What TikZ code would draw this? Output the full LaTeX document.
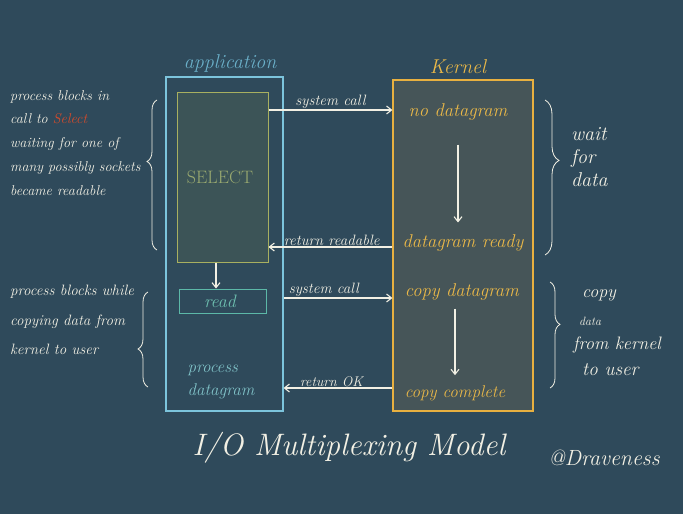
\documentclass[tikz,border=0pt]{standalone}
\usetikzlibrary{arrows.meta,decorations.pathreplacing,calc}
\definecolor{bg}{HTML}{2F4A5B}
\definecolor{appblue}{HTML}{7CC4DC}
\definecolor{applabel}{HTML}{6AAFC8}
\definecolor{selline}{HTML}{A8B060}
\definecolor{selfill}{HTML}{3C5457}
\definecolor{seltext}{HTML}{9AAA70}
\definecolor{readline}{HTML}{5CB8A8}
\definecolor{readtext}{HTML}{6EC0B0}
\definecolor{proctext}{HTML}{80C2C8}
\definecolor{kline}{HTML}{E8B040}
\definecolor{kfill}{HTML}{465558}
\definecolor{ktext}{HTML}{EAB848}
\definecolor{chalk}{HTML}{F2F0E4}
\definecolor{redsel}{HTML}{D84A2A}
\tikzset{
  hand/.style={font=\itshape, text=chalk, inner sep=0pt},
  arr/.style={draw=chalk, line width=1.1pt, -{Straight Barb[length=5pt,width=8pt]}},
  lbl/.style={font=\itshape\fontsize{15}{16}\selectfont, text=chalk, inner sep=0pt, anchor=south},
  ktxt/.style={font=\itshape\fontsize{18.5}{20}\selectfont, text=ktext, inner sep=0pt},
  brc/.style={draw=chalk, line width=0.8pt, decorate},
}
\begin{document}
\begin{tikzpicture}[x=1pt,y=-1pt]
\fill[bg] (0,0) rectangle (683,514);
\useasboundingbox (0,0) rectangle (683,514);

% application
\node (app) [draw=appblue, line width=1.2pt, minimum width=117pt, minimum height=334pt, inner sep=0pt] at (224.5,244) {};
\node (applbl) [font=\itshape\fontsize{20}{22}\selectfont, text=applabel, inner sep=0pt] at (230,63) {application};
\node (sel) [draw=selline, fill=selfill, line width=1pt, minimum width=91pt, minimum height=170pt, inner sep=0pt] at (222.5,177) {};
\node (seltxt) [font=\fontsize{18}{20}\selectfont, text=seltext, inner sep=0pt] at (220,177) {SELECT};
\node (read) [draw=readline, line width=1pt, minimum width=87pt, minimum height=24pt, inner sep=0pt] at (222.5,301) {};
\node (readtxt) [font=\itshape\fontsize{18}{20}\selectfont, text=readtext, inner sep=0pt] at (220,301) {read};
\node (proc) [font=\itshape\fontsize{17}{23}\selectfont, text=proctext, align=left, inner sep=0pt] at (221,382) {process\\datagram};
\coordinate (rx) at (216,0);
\draw[arr] (sel.south -| rx) -- (read.north -| rx);

% kernel
\node (ker) [draw=kline, fill=kfill, line width=1.2pt, minimum width=140pt, minimum height=331pt, inner sep=0pt] at (463,245.5) {};
\node (kerlbl) [font=\itshape\fontsize{20}{22}\selectfont, text=ktext, inner sep=0pt] at (458,67) {Kernel};
\node (nodg) [ktxt] at (458,112) {no datagram};
\node (dgr) [ktxt] at (463,243) {datagram ready};
\node (cpdg) [ktxt] at (462,292) {copy datagram};
\node (cpc) [ktxt, font=\itshape\fontsize{17}{19}\selectfont] at (455,393) {copy complete};
\coordinate (ka) at (458,0);
\coordinate (kb) at (455,0);
\draw[arr] ($(nodg.south -| ka)+(0,24)$) -- ($(dgr.north -| ka)+(0,-12)$);
\draw[arr] ($(cpdg.south -| kb)+(0,8)$) -- ($(cpc.north -| kb)+(0,-10)$);

% calls
\coordinate (y1) at (0,110);
\coordinate (y2) at (0,247);
\coordinate (y3) at (0,298);
\coordinate (y4) at (0,388);
\draw[arr] (sel.east |- y1) -- (ker.west |- y1) node[lbl, pos=0.5, above=1pt] {system call};
\draw[arr] (ker.west |- y2) -- (sel.east |- y2) node[lbl, pos=0.49, above=1pt] {return readable};
\draw[arr] (app.east |- y3) -- (ker.west |- y3) node[lbl, pos=0.37, above=1pt] {system call};
\draw[arr] (ker.west |- y4) -- (app.east |- y4) node[lbl, pos=0.56, above=1pt, font=\itshape\fontsize{14}{15}\selectfont] {return OK};

% left texts
\node (lt1) [hand, anchor=north west, align=left, font=\itshape\fontsize{14.2}{23.8}\selectfont] at (10,90)
  {process blocks in\\call to \textcolor{redsel}{Select}\\waiting for one of\\many possibly sockets\\became readable};
\node (lt2) [hand, anchor=north west, align=left, font=\itshape\fontsize{15}{29.5}\selectfont] at (10,285)
  {process blocks while\\copying data from\\kernel to user};
\coordinate (lb1a) at (157,250);
\coordinate (lb1b) at (157,100);
\draw[brc, decoration={brace, amplitude=10pt, aspect=0.59}] (lb1a) -- (lb1b);
\coordinate (lb2a) at (148,387);
\coordinate (lb2b) at (148,292);
\draw[brc, decoration={brace, amplitude=10pt, aspect=0.4}] (lb2a) -- (lb2b);

% right texts
\coordinate (rb1a) at (545,100);
\coordinate (rb1b) at (545,255);
\draw[brc, decoration={brace, amplitude=14pt, aspect=0.39}] (rb1a) -- (rb1b);
\coordinate (rb2a) at (550,282);
\coordinate (rb2b) at (550,388);
\draw[brc, decoration={brace, amplitude=10pt, aspect=0.4}] (rb2a) -- (rb2b);
\node (rt1) [hand, align=left, font=\itshape\fontsize{20}{23}\selectfont, anchor=north west] at (571,127) {wait\\for\\data};
\node (rt2a) [hand, font=\itshape\fontsize{18}{20}\selectfont, anchor=west] at (582,295) {copy};
\node (rt2b) [hand, font=\itshape\fontsize{12}{14}\selectfont, anchor=west] at (579,321) {data};
\node (rt2c) [hand, font=\itshape\fontsize{18}{20}\selectfont, anchor=west] at (573,345) {from kernel};
\node (rt2d) [hand, font=\itshape\fontsize{19}{21}\selectfont, anchor=west] at (582,370) {to user};

% title
\node (title) [hand, font=\itshape\fontsize{31}{34}\selectfont] at (349,448) {I/O Multiplexing Model};
\node (sig) [hand, font=\itshape\fontsize{22}{24}\selectfont] at (604,458) {@Draveness};
\end{tikzpicture}
\end{document}
